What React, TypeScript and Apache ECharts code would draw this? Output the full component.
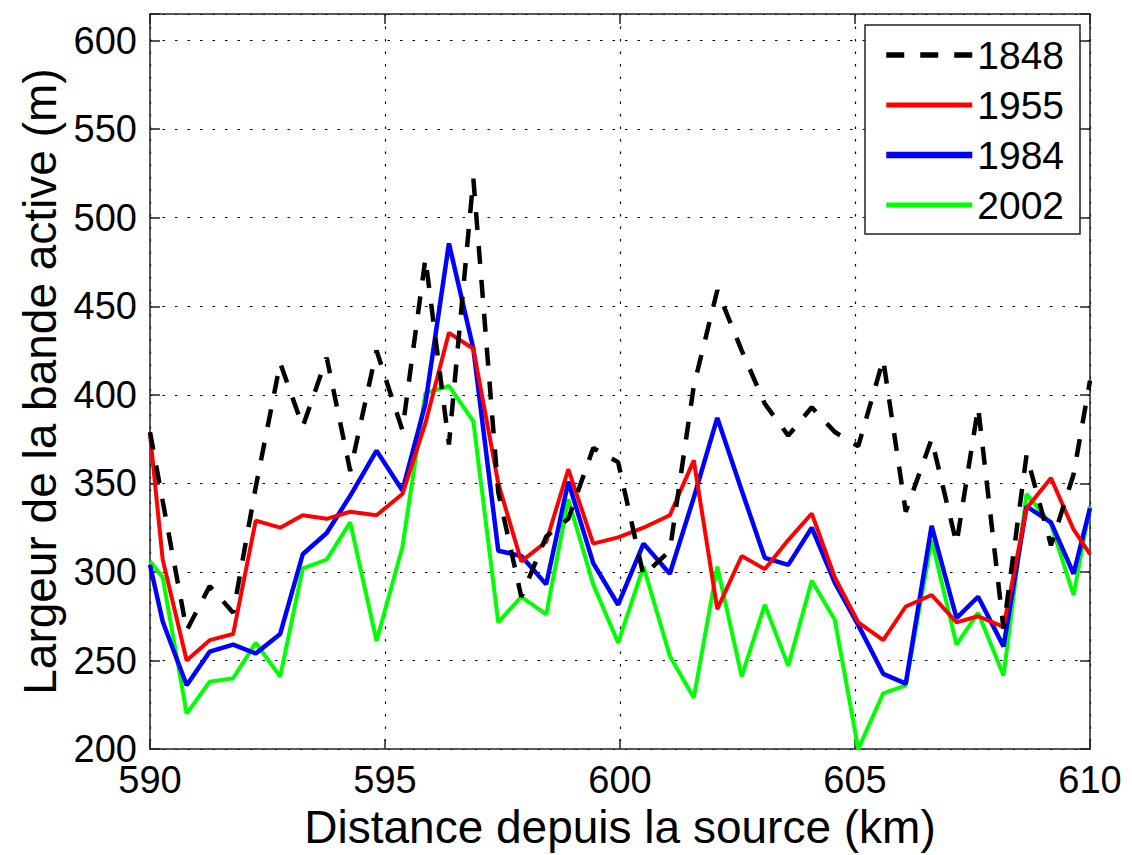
import React, { useEffect, useRef } from "react";
import * as echarts from "echarts";

const X_KM = [
  590, 590.27, 590.78, 591.27, 591.77, 592.25, 592.77, 593.25, 593.76, 594.26,
  594.82, 595.37, 595.86, 596.36, 596.88, 597.41, 597.9, 598.43, 598.9, 599.43,
  599.96, 600.5, 601.06, 601.57, 602.07, 602.59, 603.08, 603.58, 604.08, 604.57,
  605.07, 605.6, 606.08, 606.63, 607.16, 607.62, 608.16, 608.65, 609.17, 609.65, 610,
];

const W1848 = [
  379, 340, 267, 292, 277, 348, 418, 382, 421, 357,
  425, 380, 477, 372, 522, 345, 286, 320, 330, 370,
  362, 298, 312, 405, 459, 425, 395, 377, 393, 379,
  371, 420, 334, 375, 316, 393, 268, 366, 315, 355, 408,
];

const W1955 = [
  378, 307, 250, 261.5, 265, 329, 325, 332, 330, 334,
  332, 344, 384, 435, 426, 350, 306, 317, 358, 316,
  319.5, 325, 332, 363, 279, 309, 301.6, 318, 333, 297,
  271.5, 261.5, 280.5, 287, 271.5, 275, 269, 336, 353, 324, 310,
];

const W1984 = [
  304, 272, 236, 255, 259, 254, 265, 310, 322, 343,
  368.5, 346, 395, 485.5, 426, 312, 309, 293, 351, 305,
  281.5, 316, 299, 342, 387, 346, 308, 304, 325, 294,
  270, 242.5, 237, 326, 274, 286, 258, 337, 328, 299, 336,
];

const W2002 = [
  306, 297, 220, 238, 240, 260, 241, 302, 307, 328,
  261, 314, 401, 405, 385, 271.5, 286, 276, 341, 293,
  260, 303, 252.6, 229, 303, 241, 281.5, 247, 295, 273,
  200, 231.5, 236, 318, 259, 277, 241.5, 344, 327, 287, 337,
];

const YEARS = ["1848", "1955", "1984", "2002"];
const COLORS = ["#000000", "#ff0000", "#0000ff", "#00ff00"];
const WIDTHS = [4.5, 4, 4.5, 4];
const LEGEND_WIDTHS = [5.5, 5, 6.5, 5];
const VALUES = [W1848, W1955, W1984, W2002];

const FONT = "'Liberation Sans', Arial, Helvetica, sans-serif";

export default function App() {
  const ref = useRef<HTMLDivElement>(null);

  useEffect(() => {
    if (!ref.current) return;
    const chart = echarts.init(ref.current, null, { renderer: "svg" });

    const gridLine = { show: true, lineStyle: { color: "#000", width: 1.2, type: [2.5, 10] as any } };
    const frame = { show: true, onZero: false, lineStyle: { color: "#222", width: 1.5 } };
    const tick = { show: true, inside: true, length: 10, lineStyle: { color: "#222", width: 1.5 } };

    const series = YEARS.map((y, k) => ({
      name: y,
      type: "line",
      symbol: "none",
      data: X_KM.map((x, i) => [x, VALUES[k][i]]),
      lineStyle: {
        color: COLORS[k],
        width: WIDTHS[k],
        type: k === 0 ? ([18, 16] as any) : "solid",
      },
      itemStyle: { color: COLORS[k] },
      z: 10 - k,
    }));

    chart.setOption({
      animation: false,
      backgroundColor: "#fff",
      textStyle: { fontFamily: FONT },
      grid: { left: 150, right: 42, top: 14, bottom: 105, containLabel: false },
      legend: {
        orient: "vertical",
        left: 865,
        top: 25,
        padding: [10, 16, 9, 18],
        itemWidth: 86,
        itemHeight: 14,
        itemGap: 10,
        itemTextGap: 10,
        backgroundColor: "#fff",
        borderColor: "#222",
        borderWidth: 1.5,
        data: YEARS.map((y, k) => ({
          name: y,
          lineStyle: {
            color: COLORS[k],
            width: LEGEND_WIDTHS[k],
            type: k === 0 ? ([18, 16] as any) : "solid",
          },
        })),
        itemStyle: { opacity: 0, borderWidth: 0 },
        textStyle: { fontSize: 39, fontFamily: FONT, color: "#000", lineHeight: 40 },
      },
      xAxis: [
        {
          type: "value",
          min: 590,
          max: 610,
          interval: 5,
          name: "Distance depuis la source (km)",
          nameLocation: "middle",
          nameGap: 50,
          nameTextStyle: { fontSize: 46, fontFamily: FONT, color: "#000" },
          axisLine: frame,
          axisTick: tick,
          axisLabel: { fontSize: 38, color: "#000", margin: 12, fontFamily: FONT },
          splitLine: gridLine,
        },
        {
          type: "value",
          position: "top",
          min: 590,
          max: 610,
          interval: 5,
          axisLine: frame,
          axisTick: tick,
          axisLabel: { show: false },
          splitLine: { show: false },
        },
      ],
      yAxis: [
        {
          type: "value",
          min: 200,
          max: 615,
          interval: 50,
          name: "Largeur de la bande active (m)",
          nameLocation: "middle",
          nameGap: 85,
          nameTextStyle: { fontSize: 46, fontFamily: FONT, color: "#000" },
          axisLine: frame,
          axisTick: tick,
          axisLabel: {
            fontSize: 38,
            color: "#000",
            margin: 13,
            fontFamily: FONT,
            formatter: (v: number) => (v % 50 === 0 ? String(v) : ""),
          },
          splitLine: gridLine,
        },
        {
          type: "value",
          position: "right",
          min: 200,
          max: 615,
          interval: 50,
          axisLine: frame,
          axisTick: tick,
          axisLabel: { show: false },
          splitLine: { show: false },
        },
      ],
      series,
    });

    return () => chart.dispose();
  }, []);

  return <div ref={ref} style={{ width: 1132, height: 855, position: "absolute", left: 0, top: 0 }} />;
}
